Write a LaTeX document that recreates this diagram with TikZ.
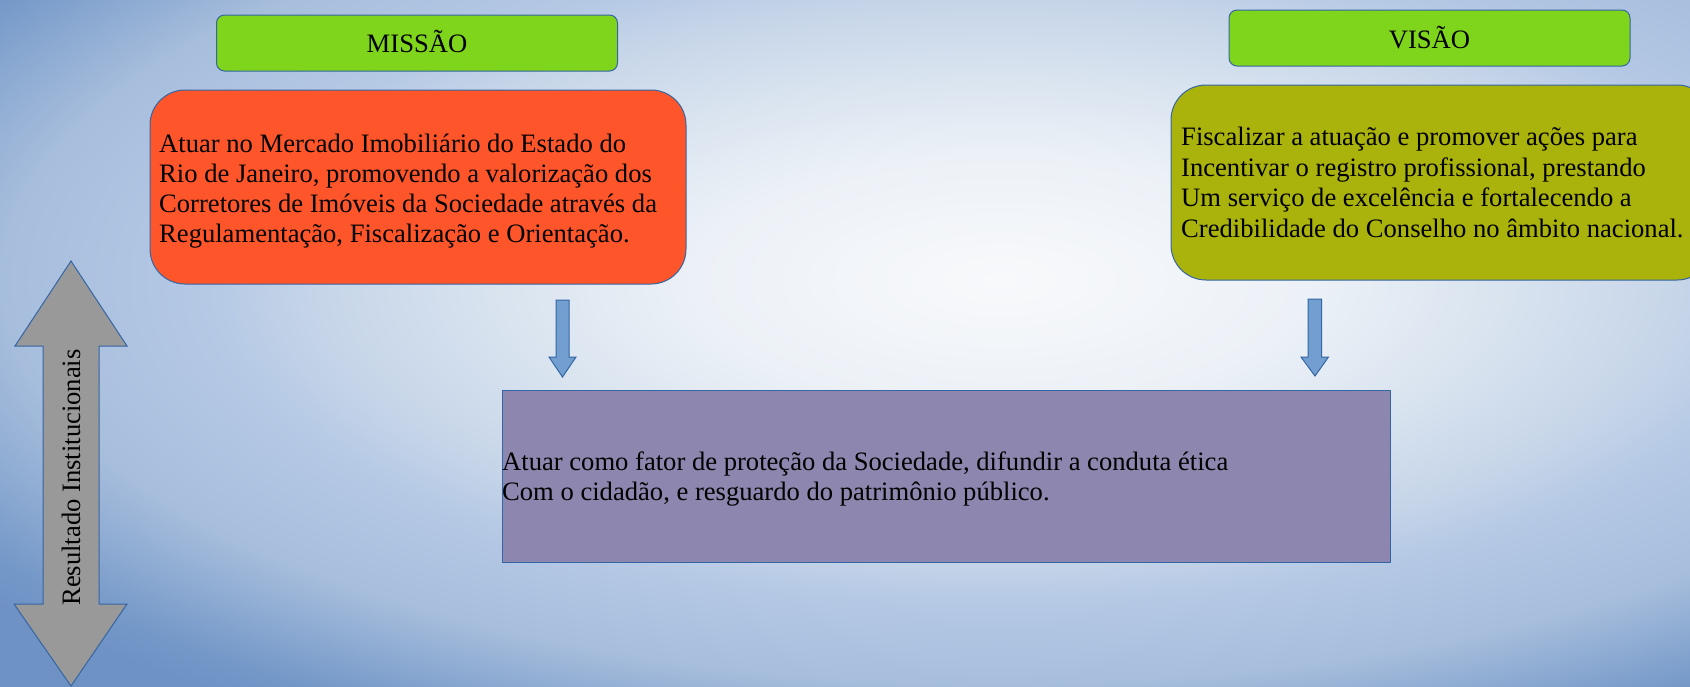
\documentclass[tikz,border=0pt]{standalone}
\usepackage{fontspec}
\setmainfont{Liberation Serif}
\definecolor{bd}{RGB}{52,101,164}
\definecolor{gbox}{RGB}{127,213,27}
\definecolor{rbox}{RGB}{255,85,42}
\definecolor{obox}{RGB}{170,178,12}
\definecolor{pbox}{RGB}{141,134,174}
\definecolor{abox}{RGB}{114,159,207}
\definecolor{graybox}{RGB}{153,153,153}
\definecolor{bgA}{RGB}{248,249,251}
\definecolor{bgB}{RGB}{236,241,247}
\definecolor{bgC}{RGB}{216,227,239}
\definecolor{bgD}{RGB}{197,212,232}
\definecolor{bgE}{RGB}{181,201,229}
\definecolor{bgF}{RGB}{166,189,220}
\definecolor{bgG}{RGB}{116,152,200}
\definecolor{bgH}{RGB}{110,146,196}
\pgfdeclareradialshading{bgshade}{\pgfpoint{0bp}{0bp}}{color(0bp)=(bgA); color(6bp)=(bgB); color(10bp)=(bgC); color(13.5bp)=(bgD); color(15.5bp)=(bgE); color(19.5bp)=(bgF); color(23.7bp)=(bgG); color(25bp)=(bgH); color(50bp)=(bgH)}
\tikzset{
  boxline/.style={draw=bd, line width=1pt},
  titlebox/.style={boxline, fill=gbox, rounded corners=8pt, inner sep=0pt, minimum width=401pt, minimum height=56pt},
  bigbox/.style={boxline, rounded corners=35pt, inner sep=0pt},
  txt/.style={inner sep=0pt, align=left, text=black, font=\fontsize{26.6}{30}\selectfont},
  txtb/.style={inner sep=0pt, align=left, text=black, font=\fontsize{26.6}{30.5}\selectfont},
  ttl/.style={inner sep=0pt, text=black, font=\fontsize{26.6}{30}\selectfont},
  blockarrow/.style={boxline, fill=abox, line join=miter},
  dblarrow/.style={boxline, fill=graybox, line join=miter},
}
\begin{document}
\begin{tikzpicture}[x=1pt, y=-1pt]
\useasboundingbox (0,0) rectangle (1690,686);
\begin{scope}
\clip (0,0) rectangle (1690,686);
\shade[shading=bgshade] (-279,-240) rectangle (2279,800);

% title boxes
\node[titlebox] (missaobox) at (417,43) {};
\node[ttl, anchor=base] (missao) at (417,52) {MISSÃO};
\node[titlebox] (visaobox) at (1429.5,38) {};
\node[ttl, anchor=base] (visao) at (1429.5,48) {VISÃO};

% main boxes
\node[bigbox, fill=rbox, minimum width=536pt, minimum height=194pt] (missionbox) at (418,187) {};
\node[txt, anchor=north west] (missiontxt) at (159,131) {\strut Atuar no Mercado Imobiliário do Estado do\\
\strut Rio de Janeiro, promovendo a valorização dos\\
\strut Corretores de Imóveis da Sociedade através da\\
\strut Regulamentação, Fiscalização e Orientação.};

\node[bigbox, fill=obox, minimum width=541pt, minimum height=195pt] (visionbox) at (1441.5,182.5) {};
\node[txtb, anchor=north west] (visiontxt) at (1181,124.4) {\strut Fiscalizar a atuação e promover ações para\\
\strut Incentivar o registro profissional, prestando\\
\strut Um serviço de excelência e fortalecendo a\\
\strut Credibilidade do Conselho no âmbito nacional.};

\node[boxline, fill=pbox, inner sep=0pt, minimum width=888pt, minimum height=172pt] (valuesbox) at (946,476) {};
\node[txt, anchor=north west] (valuestxt) at (502,449) {\strut Atuar como fator de proteção da Sociedade, difundir a conduta ética\\
\strut Com o cidadão, e resguardo do patrimônio público.};

% block arrows
\draw[blockarrow] (556,300) -- (569,300) -- (569,357) -- (576,357) -- (562.5,377) -- (549,357) -- (556,357) -- cycle;
\draw[blockarrow] (1308,299) -- (1321.5,299) -- (1321.5,357) -- (1328.5,357) -- (1315,376) -- (1301,357) -- (1308,357) -- cycle;

% double arrow
\draw[dblarrow] (71,261) -- (127,346) -- (99,346) -- (99,604) -- (127,604) -- (71,686) -- (14,604) -- (43,604) -- (43,346) -- (15,346) -- cycle;
\node[ttl, rotate=90, anchor=base] (resultado) at (80,477.5) {Resultado Institucionais};
\end{scope}
\end{tikzpicture}
\end{document}
